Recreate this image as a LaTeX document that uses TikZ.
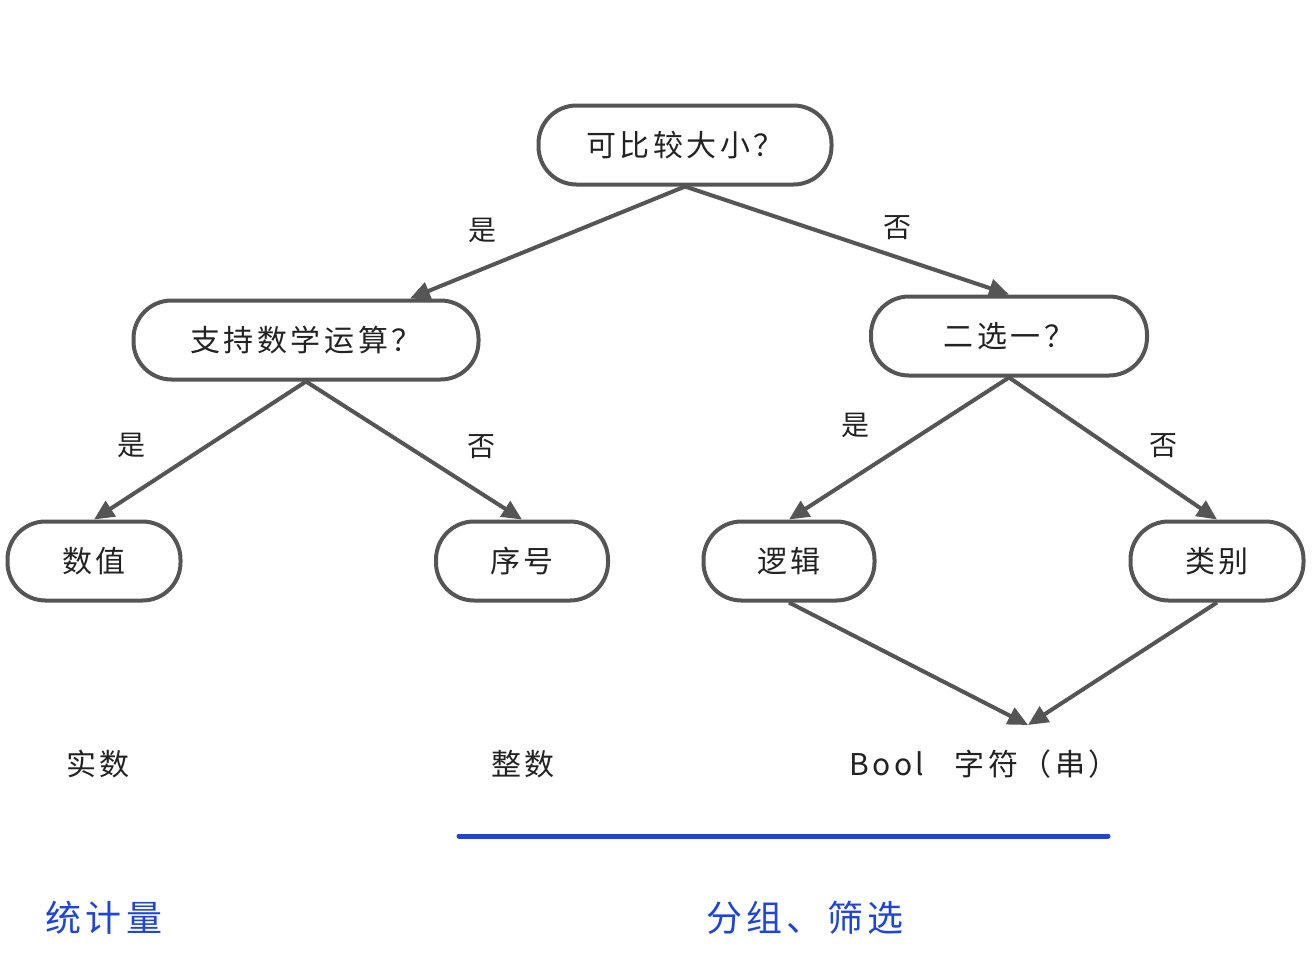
\documentclass[tikz,border=0pt]{standalone}
\usepackage{fontspec}
\setmainfont{Noto Sans CJK SC}
\newfontfamily\spacedcjk[LetterSpace=12]{Noto Sans CJK SC}
\usetikzlibrary{arrows.meta}
\definecolor{edgegray}{HTML}{555555}
\definecolor{textgray}{HTML}{222222}
\definecolor{tagblue}{HTML}{1F45D6}
\tikzset{
  question/.style={draw=edgegray, line width=2pt, rounded corners=19pt,
    minimum height=39.5pt, text=textgray, font=\spacedcjk\fontsize{15}{18}\selectfont},
  link/.style={draw=edgegray, line width=2pt, -{Triangle[length=10pt,width=9pt]}},
  answer/.style={text=textgray, font=\fontsize{14}{17}\selectfont},
  kind/.style={text=textgray, font=\spacedcjk\fontsize{15}{18}\selectfont},
  usage/.style={text=tagblue, font=\spacedcjk\fontsize{18}{22}\selectfont}
}
\begin{document}
\begin{tikzpicture}[x=0.5pt, y=-0.5pt]
  \useasboundingbox (0,0) rectangle (1312,970);
  % questions and leaves
  \node[question, minimum width=146.5pt] (comparable) at (685,145) {可比较大小？};
  \node[question, minimum width=172.5pt] (arith) at (306,340) {支持数学运算？};
  \node[question, minimum width=138pt] (binary) at (1009,336) {二选一？};
  \node[question, minimum width=86.5pt] (numeric) at (94,561) {数值};
  \node[question, minimum width=86pt] (ordinal) at (522,561) {序号};
  \node[question, minimum width=85.5pt] (logical) at (789,561) {逻辑};
  \node[question, minimum width=86.5pt] (category) at (1217,561) {类别};
  \coordinate (merge) at (1028,725);
  % connectors
  \draw[link] (comparable.south) -- ([xshift=52pt]arith.north);
  \draw[link] (comparable.south) -- (binary.north);
  \draw[link] (arith.south) -- (numeric.north);
  \draw[link] (arith.south) -- (ordinal.north);
  \draw[link] (binary.south) -- (logical.north);
  \draw[link] (binary.south) -- (category.north);
  \draw[link] (logical.south) -- (merge);
  \draw[link] (category.south) -- (merge);
  % yes / no
  \node[answer] (yes1) at (482,230) {是};
  \node[answer] (no1) at (897,228) {否};
  \node[answer] (yes2) at (131,445) {是};
  \node[answer] (no2) at (481,447) {否};
  \node[answer] (yes3) at (855,425) {是};
  \node[answer] (no3) at (1163,446) {否};
  % data types
  \node[kind] (real) at (98,764) {实数};
  \node[kind] (integer) at (523,764) {整数};
  \node[kind, anchor=west] (bool) at (842,764) {Bool\quad 字符（串）};
  % usage
  \coordinate (barl) at (459,836);
  \coordinate (barr) at (1108,836);
  \draw[tagblue, line width=2.5pt, line cap=round] (barl) -- (barr);
  \node[usage] (stats) at (104,918) {统计量};
  \node[usage] (group) at (805,918) {分组、筛选};
\end{tikzpicture}
\end{document}
